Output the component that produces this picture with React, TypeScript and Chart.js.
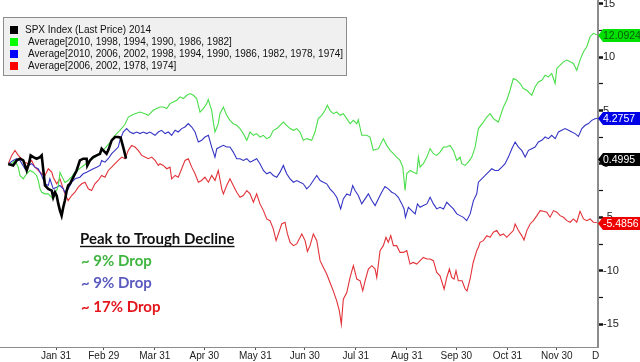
import React, { useEffect, useRef } from 'react';
import { Chart, registerables } from 'chart.js';

Chart.register(...registerables);

// ---- axis ticks ----
const monthEndDays = [31, 60, 91, 121, 152, 182, 213, 244, 274, 305, 335, 366];
const monthLabels = ['Jan 31', 'Feb 29', 'Mar 31', 'Apr 30', 'May 31', 'Jun 30', 'Jul 31', 'Aug 31', 'Sep 30', 'Oct 31', 'Nov 30', 'Dec 31'];

// ---- series labels / colours ----
const seriesLabels = [
  'SPX Index (Last Price) 2014',
  'Average[2010, 1998, 1994, 1990, 1986, 1982]',
  'Average[2010, 2006, 2002, 1998, 1994, 1990, 1986, 1982, 1978, 1974]',
  'Average[2006, 2002, 1978, 1974]',
];
const markerColors = ['#000000', '#00ff00', '#0000ff', '#ff0000'];
const lineColors = ['#000000', '#4ade4a', '#3434c4', '#e23238'];
const lineWidths = [2.6, 1.1, 1.1, 1.1];
const lastValues = [0.4995, 12.0924, 4.2757, -5.4856];
const tagFill = ['#000000', '#00e000', '#0000e6', '#ee0000'];
const tagText = ['#ffffff', '#0b5a0b', '#ffffff', '#ffffff'];

// ---- annotation ----
const annotationTitle = 'Peak to Trough Decline';
const dropLabels = ['~ 9% Drop', '~ 9% Drop', '~ 17% Drop'];
const dropColors = ['#3fb541', '#5a5abf', '#e3161c'];

// ---- data (day of year, % change) ----
const spxDays = [2, 5, 7.1, 9.1, 11.1, 13.2, 14.8, 15.6, 17.2, 19.2, 21.3, 22.3, 23.3, 24.3, 26.3, 28.4, 29.3, 30.4, 31.4, 32.4, 33.4, 34.4, 35.4, 36.4, 37.5, 38.4, 39.5, 41.5, 43.5, 45.5, 47.5, 49.6, 50, 51.6, 53.6, 55.7, 57.7, 58.7, 60.7, 61.7, 62.7, 64.8, 66.8, 68.8, 70.2, 71.5, 72.3, 73.5];
const spxValues = [0, -0.14, 0.33, 0.49, 0.33, -0.61, 0.17, 0.8, 0.64, 0.49, 0.64, 0.8, -0.61, -2.02, -2.33, -2.49, -3.12, -2.65, -2.96, -3.74, -4.37, -4.84, -4.06, -3.43, -2.49, -2.02, -1.86, -1.24, -0.61, 0.33, 0.49, 0.49, -0.14, 0.33, 0.64, 0.8, 0.95, 1.42, 1.11, 0.95, 1.27, 2.21, 2.52, 2.52, 2.46, 1.74, 1.27, 0.4995];

const greenDays = [2, 4.1, 6.1, 8.1, 9.1, 11.1, 13.2, 15.2, 17.2, 19.2,
  20.2, 21.3, 22.3, 24.3, 26.3, 28.4, 29.3, 30.4, 31.4, 32.4,
  33.4, 35.2, 36.4, 38.3, 40.7, 42.5, 45.5, 48.6, 51.6, 54.6,
  57.7, 60.7, 63.8, 66.8, 69.8, 72.9, 74.9, 76.9, 78.9, 82,
  85, 87, 90, 92.1, 94.1, 96.1, 98.2, 100.2, 102.2, 104.3,
  106.3, 108.3, 110.4, 112.4, 114.4, 116.4, 118.4, 120.4, 122.5, 123.4,
  125.5, 126.5, 127.5, 129.5, 130.5, 132.6, 134.6, 136.6, 138.6, 140.7,
  142.7, 144.7, 146.8, 148.8, 150.8, 152.8, 154.8, 156.9, 158.9, 160.9,
  162.9, 165, 167, 169, 171, 173.1, 175.1, 177.1, 179.1, 181.1,
  183.2, 186.2, 188.2, 190.2, 192.3, 194.3, 195.7, 197.3, 199.3, 201.4,
  203.4, 205.4, 207.5, 209.5, 211.5, 213.6, 214.5, 216.6, 219.6, 221.6,
  223.6, 226.7, 229.7, 231.8, 233.8, 235.8, 237.8, 239.8, 241.5, 242.9,
  243.9, 245.9, 247.9, 250, 251, 252, 254, 256.1, 258.1, 260.1,
  262.1, 264.1, 266.2, 268.2, 270.2, 272.2, 274.3, 276.3, 277.3, 279.3,
  281.3, 283.4, 285.4, 287.4, 290.4, 292.5, 294.5, 296.5, 299.5, 302.6,
  304.6, 306.6, 308.6, 310.7, 312.7, 314.7, 316.8, 319.8, 321.8, 323.8,
  325.9, 327.9, 329.9, 331.9, 334, 335, 337, 339, 341.1, 343.1,
  345.1, 347.1, 349.1, 351.2, 353.2, 355.2, 357.2, 359.3];
const greenValues = [0, 0.02, 0.33, -0.3, -1.08, -1.39, -0.92, -0.61, -0.77, -1.08,
  -1.55, -2.33, -2.65, -2.8, -2.8, -3.12, -3.27, -2.65, -2.49, -2.02,
  -0.8, -1.36, -1.74, -1.55, -1.17, -0.8, -0.42, -0.05, 0.33, 0.61,
  1.08, 1.46, 2.02, 2.68, 3.15, 3.71, 4.39, 4.55, 4.71, 4.86,
  4.71, 4.55, 5.02, 5.18, 5.33, 5.33, 5.18, 5.65, 5.81, 5.97,
  6.28, 6.12, 6.43, 6.59, 6.43, 6.12, 4.86, 5.18, 5.65, 6.03,
  5.02, 3.92, 2.99, 3.77, 4.71, 5.33, 4.55, 4.08, 3.77, 3.62,
  3.31, 2.84, 2.21, 2.99, 2.68, 2.84, 2.52, 2.68, 2.37, 2.52,
  3.15, 3.31, 3.62, 3.92, 3.62, 3.31, 3.15, 3.31, 2.99, 2.21,
  2.37, 2.21, 2.99, 4.24, 4.55, 5.02, 5.49, 5.02, 4.71, 4.86,
  4.55, 4.71, 4.24, 3.77, 4.08, 3.77, 4.15, 2.68, 2.68, 2.52,
  1.27, 1.43, 2.37, 1.74, 1.27, 0.96, 0.64, 0.33, -0.3, -2.49,
  -0.92, -0.61, -0.77, -0.92, 0.64, -0.3, 0.02, 0.64, 1.43, 0.96,
  0.8, 1.11, 1.58, 1.58, 1.74, 1.27, 0.33, 0.64, 0.02, -0.14,
  0.17, 0.64, 1.58, 3.31, 3.92, 4.39, 4.71, 4.24, 3.92, 5.33,
  5.96, 6.9, 8, 7.84, 7.53, 7.06, 6.9, 6.43, 7.21, 7.68,
  7.84, 8.31, 8.15, 8.47, 7.53, 8.94, 9.25, 9.56, 9.72, 9.56,
  9.41, 8.78, 9.72, 10.5, 10.97, 11.91, 12.23, 12.0924];

const blueDays = [2, 5, 7.1, 9.1, 12.1, 14.2, 16.2, 18.2, 20.2, 22.3,
  24.3, 26.3, 27.3, 29.3, 31.4, 33.4, 35.4, 36.4, 38.4, 40.5,
  42.5, 45.5, 47.5, 49.6, 51.6, 53.6, 55.7, 57.7, 58.7, 60.7,
  62.7, 64.8, 66.8, 68.8, 69.8, 71.8, 73.9, 75.9, 77.9, 80,
  82, 84, 86, 88, 91.1, 93.1, 95.1, 97.2, 99.2, 101.2,
  103.3, 105.2, 107.3, 109.3, 111.3, 113.4, 115.4, 117.4, 119.4, 121.4,
  123.5, 125.5, 127.5, 128.6, 130.5, 132.6, 134.6, 136.6, 138.6, 140.7,
  142.7, 144.7, 146.8, 148.8, 150.8, 152.8, 154.8, 156.9, 158.9, 160.9,
  162.9, 165, 167, 169, 171, 173.1, 175.1, 177.1, 179.1, 181.1,
  183.2, 185.2, 187.2, 189.3, 191.3, 193.3, 195.3, 197.3, 199.3, 201.4,
  203.8, 205.4, 207.5, 209.5, 211.1, 212.5, 214.5, 216.6, 218.6, 220.6,
  222.7, 224.7, 226.7, 228.7, 230.7, 232.7, 234.8, 236.8, 238.8, 240.9,
  242.3, 243.1, 244.9, 246.9, 249, 250.4, 252, 254, 256.1, 258.1,
  260.1, 262.1, 264.1, 266.2, 268.2, 270.2, 272.2, 274.3, 276.3, 278.3,
  280.3, 282.4, 284.4, 286.4, 287.4, 289.4, 291.5, 293.5, 295.5, 297.5,
  299.5, 301.6, 303.6, 305.6, 307.7, 309.7, 311.7, 313.7, 315.8, 317.8,
  319.8, 321.8, 323.8, 325.9, 327.9, 329.9, 331.9, 334, 336, 338,
  340, 342.1, 344.1, 346.1, 348.1, 350.2, 352.2, 354.2, 356.2, 358.2,
  359.7];
const blueValues = [0, 0.33, 0.49, 0.33, -0.45, -0.14, 0.02, -0.3, -0.45, -1.08,
  -1.86, -2.02, -1.39, -2.33, -2.18, -2.02, -2.33, -2.65, -2.33, -1.71,
  -1.39, -1.24, -0.92, -0.77, -0.61, -0.45, -0.3, -0.14, 0.33, 0.17,
  0.49, 0.96, 1.27, 1.58, 2.21, 2.99, 3.31, 2.99, 2.84, 2.99,
  2.84, 2.99, 2.84, 2.99, 2.68, 2.99, 3.15, 2.84, 2.99, 2.68,
  3.15, 2.99, 3.31, 3.46, 3.78, 3.46, 2.99, 2.05, 2.21, 2.52,
  2.68, 1.58, 0.64, 1.43, 1.58, 1.74, 1.58, 1.58, 1.11, 0.49,
  0.49, 0.33, 0.49, 0.17, 0.33, 0.49, 0.02, -0.61, -0.92, -0.77,
  -1.08, -1.24, -0.77, -0.14, -0.92, -1.39, -1.71, -1.55, -1.71, -1.86,
  -2.33, -2.02, -1.55, -1.08, -1.55, -1.71, -1.86, -2.33, -2.65, -3.12,
  -4.21, -3.27, -2.8, -2.96, -2.02, -2.49, -2.96, -3.74, -3.27, -2.8,
  -3.43, -3.9, -3.27, -2.65, -2.11, -2.33, -2.65, -2.8, -3.12, -3.74,
  -4.21, -5, -4.06, -4.37, -4.68, -3.74, -4.06, -3.9, -3.74, -3.12,
  -3.74, -4.21, -4.06, -4.21, -3.59, -3.9, -4.21, -4.68, -4.84, -5,
  -5.31, -4.68, -3.43, -2.8, -1.71, -1.39, -1.08, -0.77, -0.45, -0.61,
  -0.61, -0.3, 0.02, 0.64, 1.43, 2.05, 1.58, 1.27, 0.64, 1.27,
  1.43, 1.58, 2.05, 2.21, 2.52, 2.37, 2.68, 2.37, 2.99, 3.15,
  3.31, 3.15, 2.99, 2.84, 2.58, 3.31, 3.62, 3.78, 4.08, 4.24,
  4.2757];

const redDays = [2, 4.1, 6.1, 8.1, 10.1, 12.1, 14.2, 16.2, 18.2, 20.2,
  22.3, 24.3, 26.3, 28.4, 29.3, 31.4, 33.4, 35.4, 36.4, 38.4,
  40.5, 42.5, 44.5, 46.6, 48.6, 50.6, 52.6, 54.6, 56.6, 58.7,
  60.7, 62.7, 64.8, 66.8, 68.8, 70.9, 72.9, 74.9, 76.9, 78.9,
  80.9, 83, 85, 87, 89.1, 91.1, 93.1, 94.1, 96.1, 98.2,
  100.2, 101.2, 103.3, 105.2, 107.3, 109.3, 111.3, 113.4, 115.4, 117.4,
  119.4, 121.4, 123.5, 125.5, 127.5, 129.5, 131.6, 132.6, 134.6, 136.6,
  138.6, 140.7, 142.7, 144.7, 146.8, 148.8, 150.8, 152.8, 154.8, 156.9,
  158.9, 160.9, 162.9, 164.6, 166, 168, 170, 171.5, 173.1, 175.1,
  177.1, 180.2, 182.2, 183.6, 185.2, 187.2, 189.3, 191.3, 193.3, 195.3,
  197.3, 199.3, 201.4, 203, 204.2, 205.4, 207.5, 209.5, 211.5, 213.6,
  215.6, 217.2, 218.6, 220.6, 222.7, 224.7, 225.7, 227.7, 229.7, 231.3,
  232.7, 234.2, 235.8, 237.8, 239.8, 241.9, 243.9, 245.9, 247.9, 250,
  252, 254, 256.1, 258.1, 260.1, 262.1, 264.1, 266.6, 268.2, 269.8,
  271.2, 272.6, 273.8, 275.2, 277.5, 279.3, 280.5, 282.4, 284.2, 286.4,
  287.4, 288.4, 290.4, 292.5, 294.5, 296.5, 298.5, 300.6, 302.6, 304.6,
  306.6, 308.6, 309.7, 311.7, 313.7, 315.1, 316.8, 318.8, 320.8, 322.9,
  324.9, 326.9, 328.9, 330.9, 333, 335, 337, 339, 341.1, 343.1,
  345.1, 347.1, 349.1, 351.2, 353.2, 355.2, 357.2, 359.3];
const redValues = [0, 0.8, 1.27, 0.8, 0.49, 0.17, 0.02, 0.33, -0.3, -0.61,
  -0.92, -1.08, -0.45, -0.77, -1.24, -1.86, -1.39, -2.33, -2.8, -3.43,
  -2.96, -2.65, -2.18, -1.86, -1.71, -2.33, -2.49, -1.86, -1.55, -1.08,
  -1.24, -0.61, -0.3, 0.02, 0.33, 0.64, 0.49, 1.27, 1.74, 1.58,
  1.27, 0.8, 0.64, 0.49, 0.64, 0.33, -0.14, 0.02, -0.14, -0.45,
  -0.3, -1.39, -1.08, -1.24, -0.45, 0.33, 0.49, -0.3, -0.92, -1.71,
  -1.55, -1.24, -1.71, -1.08, -1.55, -0.61, -2.33, -2.8, -2.02, -1.39,
  -2.02, -2.65, -3.12, -2.96, -2.49, -2.8, -3.59, -2.8, -3.74, -4.37,
  -5.15, -5.31, -6.08, -7.18, -6.55, -5.62, -5.46, -6.55, -7.34, -7.65,
  -7.49, -6.55, -7.18, -8.19, -7.65, -6.55, -7.18, -9.06, -9.69, -10.31,
  -11.1, -11.88, -12.82, -13.76, -15.02, -12.66, -12.04, -10.63, -9.53, -10.78,
  -10.94, -11.88, -10.94, -9.84, -9.53, -9.84, -10.63, -8.12, -7.65, -6.87,
  -7.34, -6.71, -7.65, -7.65, -8.28, -8.28, -8.12, -9.37, -9.22, -9.37,
  -9.06, -8.75, -8.9, -8.9, -9.06, -10.16, -10.47, -11.72, -10.63, -9.84,
  -10.63, -10.78, -10, -10.94, -10.94, -11.69, -11.88, -10.75, -9.25, -8.12,
  -7.81, -7.34, -7.18, -6.71, -6.87, -6.4, -6.24, -6.71, -6.55, -6.87,
  -6.55, -6.24, -5.62, -6.24, -6.71, -7.12, -6.24, -5.62, -5.31, -4.84,
  -4.37, -4.43, -4.52, -4.99, -4.37, -4.52, -4.84, -4.99, -5.31, -5.46,
  -5.15, -5.46, -4.43, -5.15, -5.31, -5.15, -5.46, -5.4856];

const seriesDays = [spxDays, greenDays, blueDays, redDays];
const seriesValues = [spxValues, greenValues, blueValues, redValues];

const toPoints = (d: number[], v: number[]) => {
  const n = Math.min(d.length, v.length);
  const out: { x: number; y: number }[] = [];
  for (let i = 0; i < n; i++) out.push({ x: d[i], y: v[i] });
  return out;
};

const AXIS_FONT = 'Liberation Sans, Arial, sans-serif';
const NOTE_FONT = 'Lato, Carlito, sans-serif';

const overlayPlugin = {
  id: 'overlay',
  afterDraw(chart: any) {
    const { ctx, chartArea, scales } = chart;
    const ys = scales.y;
    ctx.save();
    // Dec label is clipped by the right axis panel
    ctx.fillStyle = '#ffffff';
    ctx.fillRect(chartArea.right + 1, chartArea.bottom + 1, chart.width - chartArea.right, chart.height - chartArea.bottom);

    // value tags on the right axis
    const tagOrder = [1, 2, 0, 3];
    tagOrder.forEach((i) => {
      const py = Math.round(ys.getPixelForValue(lastValues[i])) + 0.5;
      const x0 = chartArea.right;
      const h = 6.5;
      ctx.beginPath();
      ctx.moveTo(x0, py);
      ctx.lineTo(x0 + 5, py - h);
      ctx.lineTo(chart.width, py - h);
      ctx.lineTo(chart.width, py + h);
      ctx.lineTo(x0 + 5, py + h);
      ctx.closePath();
      ctx.fillStyle = tagFill[i];
      ctx.fill();
      ctx.fillStyle = tagText[i];
      ctx.font = `10.5px ${AXIS_FONT}`;
      ctx.textBaseline = 'middle';
      ctx.textAlign = 'left';
      ctx.fillText(String(lastValues[i]), x0 + 5, py + 0.5);
    });

    // legend box
    const lx = 3, ly = 17, lw = 343, lh = 58;
    ctx.fillStyle = '#f0f0f0';
    ctx.fillRect(lx, ly, lw, lh);
    ctx.strokeStyle = '#8d8d8d';
    ctx.lineWidth = 1;
    ctx.strokeRect(lx + 0.5, ly + 0.5, lw, lh);
    ctx.font = `10px ${AXIS_FONT}`;
    ctx.textBaseline = 'middle';
    ctx.textAlign = 'left';
    seriesLabels.forEach((label, i) => {
      const cy = 30 + i * 12;
      ctx.fillStyle = markerColors[i];
      ctx.fillRect(10, cy - 4, 8, 8);
      ctx.fillStyle = '#111111';
      ctx.fillText(label, i === 0 ? 25 : 28, cy + 0.5);
    });

    // annotation
    ctx.textBaseline = 'alphabetic';
    ctx.font = `bold 15px ${NOTE_FONT}`;
    ctx.fillStyle = '#111111';
    ctx.fillText(annotationTitle, 80, 244);
    const tw = ctx.measureText(annotationTitle).width;
    ctx.fillRect(80, 245.8, tw, 1.4);
    dropLabels.forEach((t, i) => {
      ctx.fillStyle = dropColors[i];
      ctx.fillText(t, 81, [266, 288, 312][i]);
    });
    ctx.restore();
  },
};

export default function App() {
  const ref = useRef<HTMLCanvasElement>(null);
  useEffect(() => {
    if (!ref.current) return;
    Chart.defaults.font.family = AXIS_FONT;
    const chart = new Chart(ref.current, {
      type: 'line',
      data: {
        datasets: seriesLabels.map((label, i) => ({
          label,
          data: toPoints(seriesDays[i], seriesValues[i]),
          borderColor: lineColors[i],
          borderWidth: lineWidths[i],
          pointRadius: 0,
          tension: 0,
          fill: false,
        })),
      },
      options: {
        responsive: false,
        animation: false,
        devicePixelRatio: 1,
        layout: { padding: 0 },
        plugins: { legend: { display: false }, tooltip: { enabled: false } },
        scales: {
          x: {
            type: 'linear',
            min: -3,
            max: 360,
            afterBuildTicks: (s: any) => {
              s.ticks = monthEndDays.map((v) => ({ value: v }));
            },
            afterFit: (s: any) => {
              s.height = 15;
              s.paddingLeft = 0;
              s.paddingRight = 0;
            },
            ticks: {
              autoSkip: false,
              maxRotation: 0,
              padding: 0,
              color: '#222222',
              font: { size: 10, family: AXIS_FONT },
              callback: (_v: any, i: number) => monthLabels[i],
            },
            grid: { drawOnChartArea: false, drawTicks: true, tickLength: 3, tickColor: '#555555' },
            border: { color: '#8c8c8c', width: 1 },
          },
          y: {
            type: 'linear',
            position: 'right',
            min: -17.14,
            max: 15.35,
            afterFit: (s: any) => {
              s.width = 42;
              s.paddingTop = 0;
              s.paddingBottom = 0;
            },
            ticks: {
              stepSize: 2.5,
              includeBounds: false,
              padding: 0,
              color: '#222222',
              font: { size: 11, family: AXIS_FONT },
              callback: (v: any) => (Math.abs(Number(v) % 5) < 1e-9 ? String(v) : ''),
            },
            grid: {
              drawOnChartArea: false,
              drawTicks: true,
              tickLength: 5,
              tickColor: '#111111',
              tickWidth: (c: any) => (c.tick && Math.abs(c.tick.value % 5) < 1e-9 ? 2.5 : 1.2),
            },
            border: { color: '#8c8c8c', width: 2 },
          },
        },
      },
      plugins: [overlayPlugin],
    });
    return () => chart.destroy();
  }, []);
  return (
    <div style={{ position: 'absolute', left: 0, top: 0, width: 640, height: 362, background: '#ffffff' }}>
      <canvas ref={ref} width={640} height={362} style={{ display: 'block', width: 640, height: 362 }} />
    </div>
  );
}
